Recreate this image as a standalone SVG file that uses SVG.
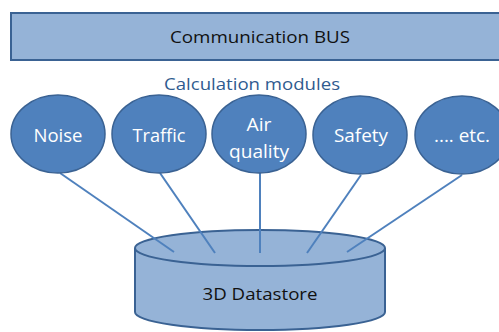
<svg xmlns="http://www.w3.org/2000/svg" width="499" height="332" viewBox="0 0 499 332">
<style>
.mod{fill:#4f81bd;stroke:#3a6293;stroke-width:1.5}
.lt{fill:#95b3d7;stroke:#3a6293;stroke-width:2}
.conn{stroke:#4f81bd;stroke-width:2;fill:none}
text{font-family:"Open Sans","Liberation Sans",Arial,sans-serif;text-anchor:middle}
.w{fill:#ffffff;font-size:18px}
.k{fill:#111111;font-size:16.5px}
</style>
<rect width="499" height="332" fill="#ffffff"/>
<g id="bus">
<rect class="lt" x="11" y="13" width="500" height="47"/>
<text class="k" x="260" y="43" textLength="180" lengthAdjust="spacingAndGlyphs">Communication BUS</text>
</g>
<g id="label">
<text x="252" y="90" style="fill:#2f5b8f;font-size:16.5px" textLength="176" lengthAdjust="spacingAndGlyphs">Calculation modules</text>
</g>
<g id="datastore">
<path class="lt" d="M135,248 L135,312 A125,18 0 0 0 385,312 L385,248"/>
<ellipse class="lt" cx="260" cy="248" rx="125" ry="18"/>
<text class="k" x="260" y="300" textLength="115" lengthAdjust="spacingAndGlyphs">3D Datastore</text>
</g>
<g id="connectors">
<line class="conn" x1="60" y1="173" x2="174" y2="252"/>
<line class="conn" x1="160" y1="173" x2="215" y2="253"/>
<line class="conn" x1="260" y1="173" x2="260" y2="253"/>
<line class="conn" x1="361" y1="175" x2="307" y2="253"/>
<line class="conn" x1="462" y1="175" x2="347" y2="252"/>
</g>
<g id="noise">
<ellipse class="mod" cx="58" cy="134" rx="47" ry="39"/>
<text class="w" x="58" y="142" textLength="49" lengthAdjust="spacingAndGlyphs">Noise</text>
</g>
<g id="traffic">
<ellipse class="mod" cx="159" cy="134" rx="47" ry="39"/>
<text class="w" x="159" y="142" textLength="53" lengthAdjust="spacingAndGlyphs">Traffic</text>
</g>
<g id="air">
<ellipse class="mod" cx="259" cy="134" rx="47" ry="39"/>
<text class="w" x="259" y="131" textLength="25" lengthAdjust="spacingAndGlyphs">Air</text>
<text class="w" x="259" y="158" textLength="60" lengthAdjust="spacingAndGlyphs">quality</text>
</g>
<g id="safety">
<ellipse class="mod" cx="360" cy="135" rx="47" ry="39"/>
<text class="w" x="361" y="142" textLength="54" lengthAdjust="spacingAndGlyphs">Safety</text>
</g>
<g id="etc">
<ellipse class="mod" cx="462" cy="135" rx="47" ry="39"/>
<text class="w" x="462" y="142" textLength="56" lengthAdjust="spacingAndGlyphs">.... etc.</text>
</g>
</svg>
